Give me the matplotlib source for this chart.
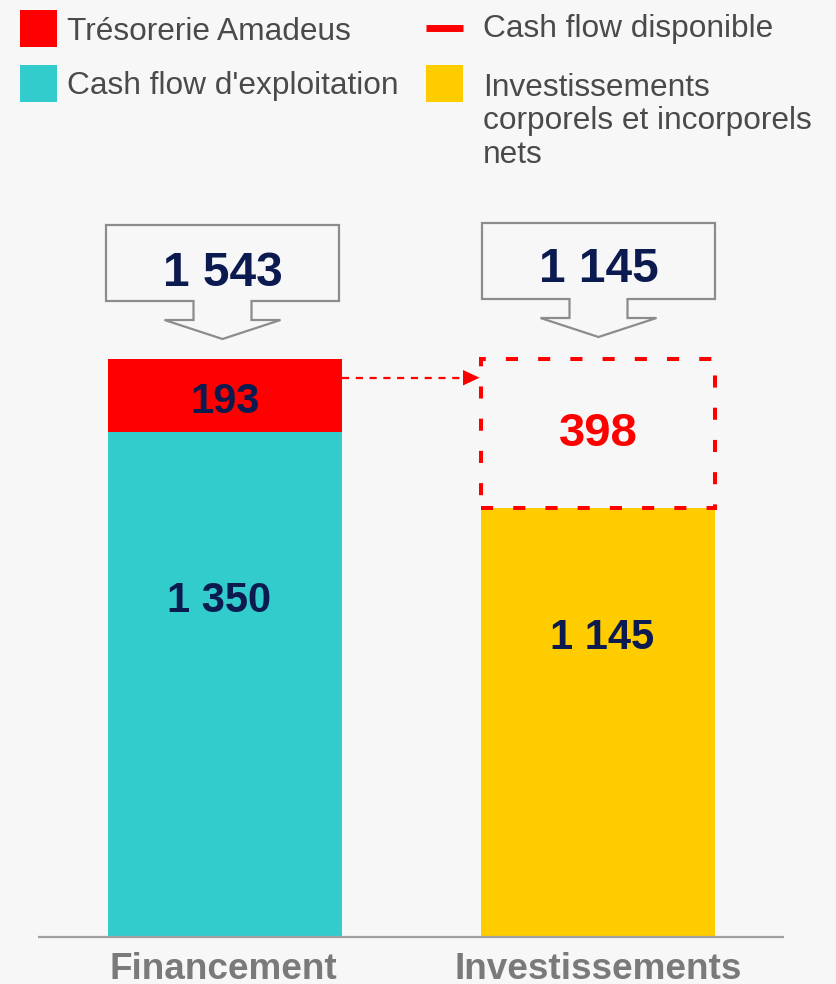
import matplotlib
matplotlib.use("Agg")
import matplotlib.pyplot as plt
from matplotlib.patches import Rectangle, Polygon

# ---------------- data ----------------
categories = ["Financement", "Investissements"]
tresorerie = [193, 0]          # Trésorerie Amadeus (left bar, top)
cash_exploit = [1350, 0]       # Cash flow d'exploitation (left bar)
investissements = [0, 1145]    # Investissements corporels et incorporels nets
cash_dispo = [0, 398]          # Cash flow disponible (dotted box)
totals = [1543, 1145]          # callout values
seg_labels_left = ["193", "1 350"]
seg_labels_right = ["398", "1 145"]
total_labels = ["1 543", "1 145"]
legend_labels = ["Trésorerie Amadeus", "Cash flow d'exploitation",
                 "Cash flow disponible",
                 "Investissements\ncorporels et incorporels\nnets"]

# ---------------- style ----------------
RED = "#ff0000"
CYAN = "#33cccc"
YELLOW = "#ffcc00"
NAVY = "#0b1a4f"
GRAY_TXT = "#4a4a4a"
CAT_GRAY = "#7a7a7a"
BG = "#f7f7f7"
OUTLINE = "#8c8c8c"

plt.rcParams['font.family'] = ['Liberation Sans', 'DejaVu Sans']

W, H = 836, 984
fig = plt.figure(figsize=(W / 100, H / 100), dpi=100, facecolor=BG)
ax = fig.add_axes([0, 0, 1, 1])
ax.set_facecolor(BG)

# pixel <-> data layout helpers (layout only)
X0, XS = 225.0, 373.0
Y0, YS = 937.0, 0.3743
def dx(px): return (px - X0) / XS
def dy(py): return (Y0 - py) / YS

ax.set_xlim(dx(0), dx(W))
ax.set_ylim(dy(H), dy(0))
ax.axis("off")

x = [0, 1]
bw = 0.627

# bars
ax.bar(x[0], cash_exploit[0], width=bw, color=CYAN, linewidth=0)
ax.bar(x[0], tresorerie[0], bottom=cash_exploit[0], width=bw, color=RED, linewidth=0)
ax.bar(x[1], investissements[1], width=bw, color=YELLOW, linewidth=0)
ax.bar(x[1], cash_dispo[1], bottom=investissements[1], width=bw, fill=False,
       edgecolor=RED, linewidth=2.9, linestyle=(0, (3.0, 5.0)), zorder=3)

# baseline
ax.plot([dx(38), dx(784)], [0, 0], color="#a0a0a0", lw=1.6, solid_capstyle="butt", zorder=4)

# segment labels
ax.text(x[0], dy(413), seg_labels_left[0], ha="center", va="baseline",
        fontsize=30, fontweight="bold", color=NAVY)
ax.text(x[0] + dx(219) - dx(225), dy(612.5), seg_labels_left[1], ha="center", va="baseline",
        fontsize=30, fontweight="bold", color=NAVY)
ax.text(x[1], dy(446), seg_labels_right[0], ha="center", va="baseline",
        fontsize=34, fontweight="bold", color=RED)
ax.text(x[1] + dx(602) - dx(598), dy(649), seg_labels_right[1], ha="center", va="baseline",
        fontsize=30, fontweight="bold", color=NAVY)

# callouts (box with down arrow)
def callout(cx_px, top_px, label, base_px):
    bh, sh, hh = 76, 19, 19
    bw2, sw2, hw2 = 116.5, 29, 58
    pts = [
        (cx_px - bw2, top_px), (cx_px + bw2, top_px),
        (cx_px + bw2, top_px + bh), (cx_px + sw2, top_px + bh),
        (cx_px + sw2, top_px + bh + sh), (cx_px + hw2, top_px + bh + sh),
        (cx_px, top_px + bh + sh + hh), (cx_px - hw2, top_px + bh + sh),
        (cx_px - sw2, top_px + bh + sh), (cx_px - sw2, top_px + bh),
        (cx_px - bw2, top_px + bh),
    ]
    poly = Polygon([(dx(a), dy(b)) for a, b in pts], closed=True, fill=False,
                   edgecolor=OUTLINE, lw=1.6, joinstyle="miter")
    ax.add_patch(poly)
    ax.text(dx(cx_px), dy(base_px), label, ha="center", va="baseline",
            fontsize=34.5, fontweight="bold", color=NAVY)

callout(222.5, 225, total_labels[0], 286)
callout(598.5, 223, total_labels[1], 282)

# dashed arrow from Trésorerie to Cash flow disponible
ay = dy(377.7)
ax.plot([dx(342), dx(464)], [ay, ay], color=RED, lw=1.6,
        linestyle=(0, (3.2, 3.0)), zorder=3)
head = Polygon([(dx(463), dy(370)), (dx(479.5), dy(377.7)), (dx(463), dy(385.5))],
               closed=True, color=RED, lw=0, zorder=3)
ax.add_patch(head)

# category labels
ax.text(dx(223), dy(979), categories[0], ha="center", va="baseline",
        fontsize=26.6, fontweight="bold", color=CAT_GRAY)
ax.text(dx(598), dy(979), categories[1], ha="center", va="baseline",
        fontsize=26.6, fontweight="bold", color=CAT_GRAY)

# legend (figure pixel coordinates)
def frect(x, y, w, h, color):
    fig.add_artist(Rectangle((x / W, 1 - (y + h) / H), w / W, h / H,
                             transform=fig.transFigure, color=color, lw=0))

def ftext(x, y, s, **kw):
    fig.text(x / W, 1 - y / H, s, ha="left", va="baseline",
             fontsize=22.8, color=GRAY_TXT, **kw)

frect(20, 10, 37, 37, RED)
ftext(67, 39.5, legend_labels[0])
frect(20, 65, 37, 37, CYAN)
ftext(67, 94, legend_labels[1])
fig.add_artist(plt.Line2D([426 / W, 463 / W], [1 - 27.7 / H, 1 - 27.7 / H],
                          transform=fig.transFigure, color=RED, lw=5,
                          solid_capstyle="butt"))
ftext(483, 37.5, legend_labels[2])
frect(426, 65, 37, 37, YELLOW)
fig.text(483 / W, 1 - 162.7 / H, legend_labels[3], ha="left", va="baseline",
         fontsize=22.8, color=GRAY_TXT, linespacing=1.15)

fig.savefig("out.png", dpi=100, facecolor=BG)
